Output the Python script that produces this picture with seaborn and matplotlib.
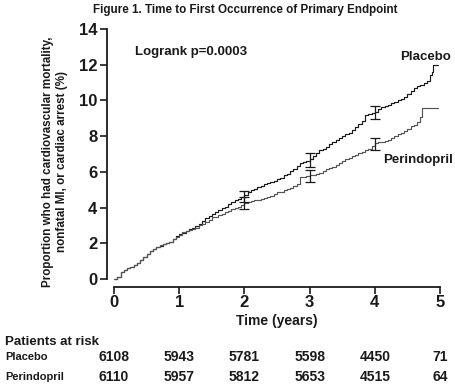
import matplotlib
matplotlib.use("Agg")
import matplotlib.pyplot as plt
import matplotlib.transforms as mtransforms
import seaborn as sns
import pandas as pd

sns.set_theme(style="ticks")
plt.rcParams['font.family'] = ['Liberation Sans', 'DejaVu Sans']

# ---- data ----
placebo_t = [0.00, 0.05, 0.10, 0.15, 0.20, 0.25, 0.30, 0.35, 0.40, 0.45, 0.50, 0.55, 0.60, 0.65,
             0.70, 0.75, 0.80, 0.85, 0.90, 0.95, 1.00, 1.05, 1.10, 1.15, 1.20, 1.25, 1.30, 1.35,
             1.40, 1.45, 1.50, 1.55, 1.60, 1.65, 1.70, 1.75, 1.80, 1.85, 1.90, 1.95, 2.00, 2.05,
             2.10, 2.15, 2.20, 2.25, 2.30, 2.35, 2.40, 2.45, 2.50, 2.55, 2.60, 2.65, 2.70, 2.75,
             2.80, 2.85, 2.90, 2.95, 3.00, 3.05, 3.10, 3.15, 3.20, 3.25, 3.30, 3.35, 3.40, 3.45,
             3.50, 3.55, 3.60, 3.65, 3.70, 3.75, 3.80, 3.85, 3.90, 3.95, 4.00, 4.05, 4.10, 4.15,
             4.20, 4.25, 4.30, 4.35, 4.40, 4.45, 4.50, 4.55, 4.60, 4.65, 4.70, 4.75, 4.80, 4.85,
             4.88, 4.90, 4.97]
placebo_y = [0.0, 0.1, 0.4, 0.5, 0.6, 0.7, 0.8, 0.9, 1.05, 1.25, 1.4, 1.55, 1.7, 1.8,
             1.85, 1.95, 2.0, 2.1, 2.25, 2.4, 2.5, 2.6, 2.7, 2.8, 2.85, 2.95, 3.1, 3.25,
             3.4, 3.55, 3.65, 3.75, 3.85, 3.95, 4.05, 4.2, 4.3, 4.4, 4.5, 4.6, 4.7, 4.85,
             5.0, 5.05, 5.15, 5.2, 5.3, 5.35, 5.45, 5.5, 5.6, 5.65, 5.8, 5.9, 6.05, 6.15,
             6.35, 6.5, 6.55, 6.6, 6.7, 6.9, 7.05, 7.2, 7.3, 7.4, 7.55, 7.65, 7.8, 7.9,
             8.0, 8.1, 8.2, 8.35, 8.5, 8.7, 8.85, 9.2, 9.25, 9.3, 9.35, 9.5, 9.65, 9.7,
             9.75, 9.85, 9.9, 10.0, 10.1, 10.2, 10.35, 10.55, 10.7, 10.8, 10.85, 11.0, 11.1, 11.4,
             11.6, 12.0, 12.0]

perin_t = [0.00, 0.05, 0.10, 0.15, 0.20, 0.25, 0.30, 0.35, 0.40, 0.45, 0.50, 0.55, 0.60, 0.65,
           0.70, 0.75, 0.80, 0.85, 0.90, 0.95, 1.00, 1.05, 1.10, 1.15, 1.20, 1.25, 1.30, 1.35,
           1.40, 1.45, 1.50, 1.55, 1.60, 1.65, 1.70, 1.75, 1.80, 1.85, 1.90, 1.95, 2.00, 2.05,
           2.10, 2.15, 2.20, 2.25, 2.30, 2.35, 2.40, 2.45, 2.50, 2.55, 2.60, 2.65, 2.70, 2.75,
           2.80, 2.85, 2.90, 2.95, 3.00, 3.05, 3.10, 3.15, 3.20, 3.25, 3.30, 3.35, 3.40, 3.45,
           3.50, 3.55, 3.60, 3.65, 3.70, 3.75, 3.80, 3.85, 3.90, 3.95, 4.00, 4.05, 4.10, 4.15,
           4.20, 4.25, 4.30, 4.35, 4.40, 4.45, 4.50, 4.55, 4.60, 4.65, 4.70, 4.72, 4.97]
perin_y = [0.0, 0.1, 0.4, 0.5, 0.6, 0.7, 0.8, 0.9, 1.05, 1.25, 1.4, 1.55, 1.7, 1.8,
           1.9, 1.95, 2.0, 2.1, 2.25, 2.35, 2.45, 2.65, 2.7, 2.75, 2.8, 2.85, 3.0, 3.1,
           3.2, 3.3, 3.45, 3.5, 3.6, 3.65, 3.75, 3.8, 3.9, 3.95, 4.05, 4.15, 4.25, 4.3,
           4.35, 4.4, 4.45, 4.5, 4.55, 4.6, 4.65, 4.75, 4.85, 4.9, 5.0, 5.05, 5.1, 5.2,
           5.3, 5.7, 5.72, 5.75, 5.8, 5.85, 5.9, 5.95, 6.05, 6.15, 6.2, 6.3, 6.4, 6.5,
           6.6, 6.7, 6.8, 6.9, 6.95, 7.05, 7.1, 7.2, 7.3, 7.45, 7.6, 7.65, 7.7, 7.75,
           7.8, 7.9, 8.0, 8.1, 8.2, 8.3, 8.4, 8.55, 8.65, 8.8, 9.1, 9.57, 9.57]

err_t = [2, 3, 4]
placebo_err_y = [4.62, 6.66, 9.33]
placebo_err_half = [0.3, 0.38, 0.38]
perin_err_y = [4.25, 5.77, 7.56]
perin_err_half = [0.33, 0.35, 0.35]

risk_years = [0, 1, 2, 3, 4, 5]
risk_placebo = [6108, 5943, 5781, 5598, 4450, 71]
risk_perin = [6110, 5957, 5812, 5653, 4515, 64]

df = pd.concat([
    pd.DataFrame({"t": placebo_t, "y": placebo_y, "group": "Placebo"}),
    pd.DataFrame({"t": perin_t, "y": perin_y, "group": "Perindopril"}),
])

INK = '#1a1a1a'
W, H = 456, 385
fig = plt.figure(figsize=(W / 100, H / 100), dpi=100)
ax = fig.add_axes([114 / W, 1 - 279 / H, (440 - 114) / W, (279 - 29) / H])

sns.lineplot(data=df, x="t", y="y", hue="group", palette={"Placebo": INK, "Perindopril": "#555555"},
             drawstyle="steps-post", linewidth=0.85, legend=False, ax=ax, estimator=None, sort=False)
for c in ax.lines:
    c.set_clip_on(False)

ax.errorbar(err_t, placebo_err_y, yerr=placebo_err_half, fmt="none", ecolor=INK, elinewidth=0.9,
            capsize=3.5, capthick=0.9, clip_on=False)
ax.errorbar(err_t, perin_err_y, yerr=perin_err_half, fmt="none", ecolor=INK, elinewidth=0.9,
            capsize=3.5, capthick=0.9, clip_on=False)

ax.set_xlim(0, 5)
ax.set_ylim(0, 14)
ax.set_xticks(risk_years)
ax.set_yticks(range(0, 15, 2))
sns.despine(ax=ax)
ax.spines['left'].set_position(('outward', 5))
ax.spines['bottom'].set_position(('outward', 6))
for s in ['left', 'bottom']:
    ax.spines[s].set_linewidth(1.3)
    ax.spines[s].set_color(INK)
ax.tick_params(axis='both', length=5, width=1.2, color=INK, labelsize=12, pad=2)
ax.tick_params(axis='x', pad=0.5)
for lab in ax.get_xticklabels() + ax.get_yticklabels():
    lab.set_fontweight('bold')
    lab.set_color(INK)

ax.set_xlabel("Time (years)", fontsize=10, fontweight='bold', color=INK, labelpad=3)
ax.set_ylabel("Proportion who had cardiovascular mortality,\nnonfatal MI, or cardiac arrest (%)",
              fontsize=8.4, fontweight='bold', color=INK, linespacing=1.25)
ax.yaxis.set_label_coords(-0.14, 0.47)

fig.text(245 / W, 1 - 10 / H, "Figure 1. Time to First Occurrence of Primary Endpoint",
         ha='center', va='center', fontsize=8.4, fontweight='bold', color=INK,
         family=['Liberation Sans Narrow', 'Liberation Sans', 'DejaVu Sans'])
fig.text(135 / W, 1 - 52 / H, "Logrank p=0.0003", ha='left', va='center', fontsize=9.5,
         fontweight='bold', color=INK)
fig.text(426 / W, 1 - 57 / H, "Placebo", ha='center', va='center', fontsize=9.5,
         fontweight='bold', color=INK)
fig.text(418 / W, 1 - 160 / H, "Perindopril", ha='center', va='center', fontsize=9.5,
         fontweight='bold', color=INK)

fig.text(5 / W, 1 - 342 / H, "Patients at risk", ha='left', va='center', fontsize=9.5,
         fontweight='bold', color=INK)
fig.text(5 / W, 1 - 357 / H, "Placebo", ha='left', va='center', fontsize=8,
         fontweight='bold', color=INK)
fig.text(5 / W, 1 - 377 / H, "Perindopril", ha='left', va='center', fontsize=8,
         fontweight='bold', color=INK)
trans = mtransforms.blended_transform_factory(ax.transData, fig.transFigure)
for x, a, b in zip(risk_years, risk_placebo, risk_perin):
    ax.text(x, 1 - 357 / H, f"{a}", transform=trans, ha='center', va='center', fontsize=10,
            fontweight='bold', color=INK)
    ax.text(x, 1 - 377 / H, f"{b}", transform=trans, ha='center', va='center', fontsize=10,
            fontweight='bold', color=INK)

fig.savefig("out.png", dpi=100)
